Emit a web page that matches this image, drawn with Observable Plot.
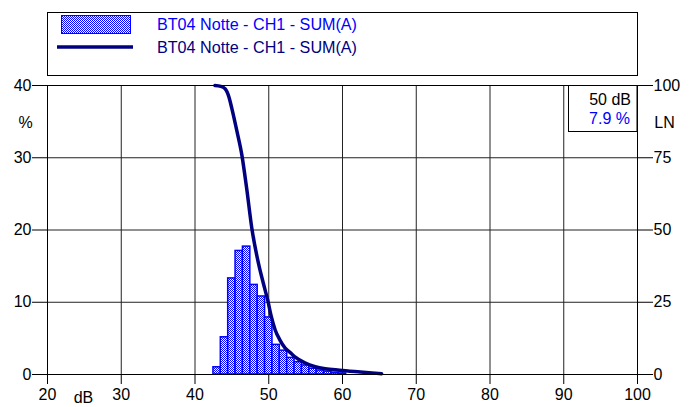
<!DOCTYPE html>
<html><head><meta charset="utf-8">
<script src="https://cdn.jsdelivr.net/npm/d3@7"></script>
<script src="https://cdn.jsdelivr.net/npm/@observablehq/plot@0.6"></script>
<style>
body{margin:0;background:#fff;font-family:"Liberation Sans",Arial,sans-serif;}
#wrap{position:relative;width:693px;height:407px;}
#legend{position:absolute;left:0;top:0;pointer-events:none;}
#chart svg{display:block;}
</style>
</head><body>
<div id="wrap">
<div id="chart"></div>
<svg id="legend" width="693" height="80" xmlns="http://www.w3.org/2000/svg">
  <defs>
    <pattern id="chk" width="2" height="2" patternUnits="userSpaceOnUse">
      <rect width="2" height="2" fill="#ffffff"/>
      <rect width="1" height="1" fill="#0000ff"/>
      <rect x="1" y="1" width="1" height="1" fill="#0000ff"/>
    </pattern>
  </defs>
  <rect x="47.5" y="12.5" width="590" height="63" fill="#fff" stroke="#000" stroke-width="1"/>
  <rect x="61.5" y="15.5" width="69" height="18" fill="url(#chk)" stroke="#0000ff" stroke-width="1"/>
  <line x1="57" x2="133" y1="47" y2="47" stroke="#000080" stroke-width="3.5"/>
  <text id="lg1" x="157" y="29.5" font-size="16" fill="#0000ff" textLength="200" lengthAdjust="spacingAndGlyphs" font-family="Liberation Sans, Arial, sans-serif"></text>
  <text id="lg2" x="157" y="52.5" font-size="16" fill="#000080" textLength="200" lengthAdjust="spacingAndGlyphs" font-family="Liberation Sans, Arial, sans-serif"></text>
</svg>
</div>
<script>
// ---- data ----
const seriesName = "BT04 Notte - CH1 - SUM(A)";
const dbLevels = [43, 44, 45, 46, 47, 48, 49, 50, 51, 52, 53, 54, 55, 56, 57, 58, 59, 60];
const pctValues = [1.0, 5.15, 13.3, 17.1, 17.7, 12.4, 10.8, 7.9, 4.1, 3.3, 2.3, 1.7, 1.25, 0.8, 0.55, 0.4, 0.25, 0.15];
const lnDb  = [42.7, 43.5, 44.1, 44.6, 45.0, 45.7, 46.35, 47.0, 47.7, 48.6, 49.5, 49.9, 50.3, 50.86, 51.5, 52.2, 53.0, 53.6, 54.9, 56.3, 57.65, 59.6, 62.4, 65.3];
const lnVal = [100, 99.7, 98.8, 96, 92, 84, 76, 64.5, 50.7, 38.5, 29.3, 25.3, 20.5, 15.5, 12, 9.2, 7.4, 6.0, 4.0, 2.7, 2.0, 1.5, 0.9, 0.3];
const xTicks = [20, 30, 40, 50, 60, 70, 80, 90, 100];
const yTicks = [0, 10, 20, 30, 40];
const lnTicks = [0, 25, 50, 75, 100];
const selDb = 50;
const selPct = 7.9;

document.getElementById("lg1").textContent = seriesName;
document.getElementById("lg2").textContent = seriesName;

const bars = dbLevels.map((d, i) => ({db: d, pct: pctValues[i]}));
const ln = lnDb.map((d, i) => ({db: d, ln: lnVal[i]}));
const k = 40 / 100; // LN (0-100) -> left scale (0-40)

const svg = Plot.plot({
  width: 693, height: 407,
  marginTop: 85, marginBottom: 33, marginLeft: 47, marginRight: 56,
  style: {fontFamily: "Liberation Sans, Arial, sans-serif", fontSize: "16px", background: "#fff", color: "#000"},
  x: {domain: [20, 100]},
  y: {domain: [0, 40]},
  marks: [
    Plot.gridX(xTicks, {stroke: "#222", strokeOpacity: 1}),
    Plot.gridY(yTicks, {stroke: "#222", strokeOpacity: 1}),
    Plot.rectY(bars, {x1: d => d.db - 0.5, x2: d => d.db + 0.5, y: "pct", fill: "url(#chk)", stroke: "#0000ff", strokeWidth: 1.5}),
    Plot.line(ln, {x: "db", y: d => d.ln * k, stroke: "#000080", strokeWidth: 3.5, curve: "monotone-x"}),
    Plot.frame({stroke: "#000"}),
    Plot.axisX({ticks: xTicks, tickSize: 10, tickPadding: 4, label: null}),
    Plot.axisY({ticks: yTicks, tickSize: 15, tickPadding: 1, label: null}),
    Plot.axisY({anchor: "right", ticks: lnTicks.map(v => v * k), tickFormat: v => String(Math.round(v / k)), tickSize: 15, tickPadding: 1, label: null}),
    Plot.text(["%"], {frameAnchor: "top-left", textAnchor: "middle", lineAnchor: "middle", dx: -22, dy: 37}),
    Plot.text(["dB"], {frameAnchor: "bottom-left", textAnchor: "middle", lineAnchor: "middle", dx: 36, dy: 23}),
    Plot.text(["LN"], {frameAnchor: "top-right", textAnchor: "middle", lineAnchor: "middle", dx: 27, dy: 37}),
    Plot.text([`${selDb} dB`], {frameAnchor: "top-right", textAnchor: "end", lineAnchor: "middle", dx: -6.5, dy: 14.5, fill: "#000"}),
    Plot.text([`${selPct} %`], {frameAnchor: "top-right", textAnchor: "end", lineAnchor: "middle", dx: -7.5, dy: 33, fill: "#0000ff"})
  ]
});
d3.select(svg).append("rect")
  .attr("x", 693 - 56 - 68.5).attr("y", 85.5)
  .attr("width", 68.5).attr("height", 46)
  .attr("fill", "none").attr("stroke", "#000");
document.getElementById("chart").appendChild(svg);
</script>
</body></html>
